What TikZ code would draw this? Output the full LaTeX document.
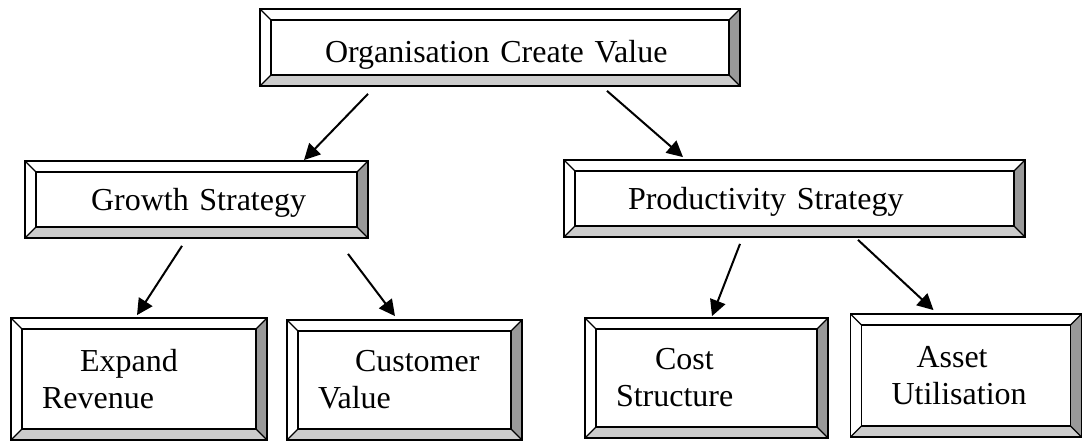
\documentclass[tikz,border=0pt]{standalone}
\usepackage{fontspec}
\setmainfont{Liberation Serif}
\usepackage{xcolor}
\colorlet{colorBevelLow}{black!20}
\colorlet{colorBevelSide}{black!40}
\usetikzlibrary{arrows.meta}
% raised box: white top/left bevel, grey bottom/right bevel
\tikzset{
  bevelbox/.style={draw, line width=1.8pt, fill=white, inner sep=0pt, align=left,
    font=\fontsize{32}{37}\selectfont,
    path picture={
      \coordinate (pbl) at (path picture bounding box.south west);
      \coordinate (ptr) at (path picture bounding box.north east);
      \coordinate (ibl) at ([shift={(11pt,11pt)}]pbl);
      \coordinate (itr) at ([shift={(-11pt,-11pt)}]ptr);
      \fill[colorBevelLow] (pbl) -- (pbl -| ptr) -- (ibl -| itr) -- (ibl) -- cycle;
      \fill[colorBevelSide] (pbl -| ptr) -- (ptr) -- (itr) -- (ibl -| itr) -- cycle;
      \draw[line width=1.8pt] (ibl) rectangle (itr);
      \draw[line width=1.1pt] (pbl) -- (ibl) (pbl -| ptr) -- (ibl -| itr)
        (ptr) -- (itr) (pbl |- ptr) -- (ibl |- itr);
    }},
  oneline/.style={text height=22pt, text depth=0pt},
}

\begin{document}
\begin{tikzpicture}[>={Triangle[length=16pt,width=16pt]}, line width=2pt, x=1pt, y=1pt]
\useasboundingbox (0,0) rectangle (1083,441);

\node[bevelbox, text width=480pt, minimum height=77pt, text height=31pt, text depth=0pt] (org) at (500,393.5) {\hspace*{65pt}Organisation Create Value};
\node[bevelbox, oneline, text width=343pt, minimum height=77pt] (grow) at (196.5,241.5) {\hspace*{66pt}Growth Strategy};
\node[bevelbox, oneline, text width=461pt, minimum height=77pt] (prod) at (794.5,242.5) {\hspace*{64pt}Productivity Strategy};

\node[bevelbox, text width=256pt, minimum height=122pt] (exp) at (139,62) {\hspace*{69pt}Expand\\\hspace*{31pt}Revenue};
\node[bevelbox, text width=235pt, minimum height=120pt] (cust) at (404.5,61) {\hspace*{68pt}Customer\\\hspace*{31pt}Value};
\node[bevelbox, text width=243pt, minimum height=120pt] (cost) at (706.5,63) {\hspace*{70pt}Cost\\\hspace*{31pt}Structure};
\node[bevelbox, text width=231pt, minimum height=123pt] (asset) at (966,65.5) {\hspace*{66pt}Asset\\\hspace*{41pt}Utilisation};

\draw[->] ([shift={(-132,-7)}]org.south) -- ([xshift=107.5pt]grow.north);
\draw[->] ([shift={(107,-4)}]org.south) -- ([shift={(-111.5,2)}]prod.north);
\draw[->] ([shift={(-14.5,-7)}]grow.south) -- ([shift={(-2,2)}]exp.north);
\draw[->] ([shift={(151.5,-15)}]grow.south) -- ([shift={(-9.5,3)}]cust.north);
\draw[->] ([shift={(-54.5,-6)}]prod.south) -- ([shift={(5.5,1)}]cost.north);
\draw[->] ([shift={(63.5,-2)}]prod.south) -- ([shift={(-32.5,3)}]asset.north);
\end{tikzpicture}
\end{document}
